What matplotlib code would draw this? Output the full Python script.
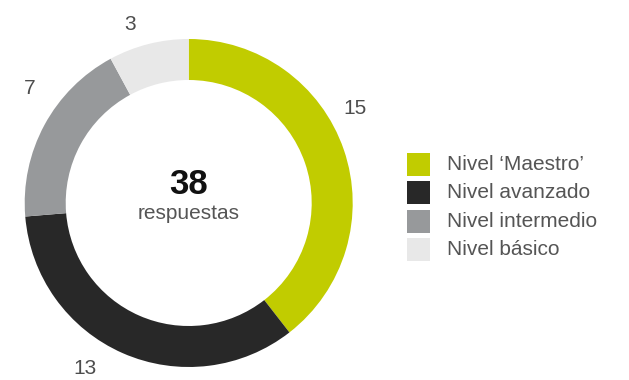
import numpy as np
import matplotlib.pyplot as plt
from matplotlib.patches import Rectangle

plt.rcParams['font.family'] = ['Liberation Sans', 'DejaVu Sans']

levels = ["Nivel \u2018Maestro\u2019", "Nivel avanzado", "Nivel intermedio", "Nivel básico"]
counts = [15, 13, 7, 3]
colors = ["#c1cc00", "#282828", "#97999b", "#e8e8e8"]
center_label = "respuestas"

# small angular nudges (deg) and radial distances for the value labels
label_nudge = [10.7, -8.4, -7.5, 4.0]
label_dist = [1.168, 1.188, 1.195, 1.146]

W, H = 629, 380
fig = plt.figure(figsize=(W / 100, H / 100), dpi=100)

# donut axes: centre at (188.7, 203) px, outer radius 164 px
R_px = 164.0
lim = 1.3
side = 2 * lim * R_px
cx, cy = 188.7, H - 203.0
ax = fig.add_axes([(cx - side / 2) / W, (cy - side / 2) / H, side / W, side / H])

wedges, _ = ax.pie(counts, colors=colors, startangle=90, counterclock=False,
                   radius=1.0, wedgeprops=dict(width=0.25, linewidth=0))
ax.set_xlim(-lim, lim)
ax.set_ylim(-lim, lim)
ax.set_aspect('equal')
ax.axis('off')

# value labels outside the ring
for w, n, dn, r in zip(wedges, counts, label_nudge, label_dist):
    ang = np.deg2rad((w.theta1 + w.theta2) / 2 + dn)
    ax.text(r * np.cos(ang), r * np.sin(ang), str(n), ha='center', va='center',
            fontsize=15, color='#4d4d4d')

ax.text(0, 0.11, str(sum(counts)), ha='center', va='center', fontsize=25,
        fontweight='bold', color='#111111')
ax.text(0, -0.065, center_label, ha='center', va='center', fontsize=15, color='#555555')

# legend drawn in pixel space
lg = fig.add_axes([0, 0, 1, 1])
lg.set_xlim(0, W)
lg.set_ylim(H, 0)
lg.axis('off')
for i, (lab, c) in enumerate(zip(levels, colors)):
    yc = 164.5 + i * 28.3
    lg.add_patch(Rectangle((407, yc - 11.5), 23, 23, color=c, linewidth=0))
    lg.text(447, yc, lab, ha='left', va='center', fontsize=15, color='#555555')

fig.savefig("out.png", dpi=100)
